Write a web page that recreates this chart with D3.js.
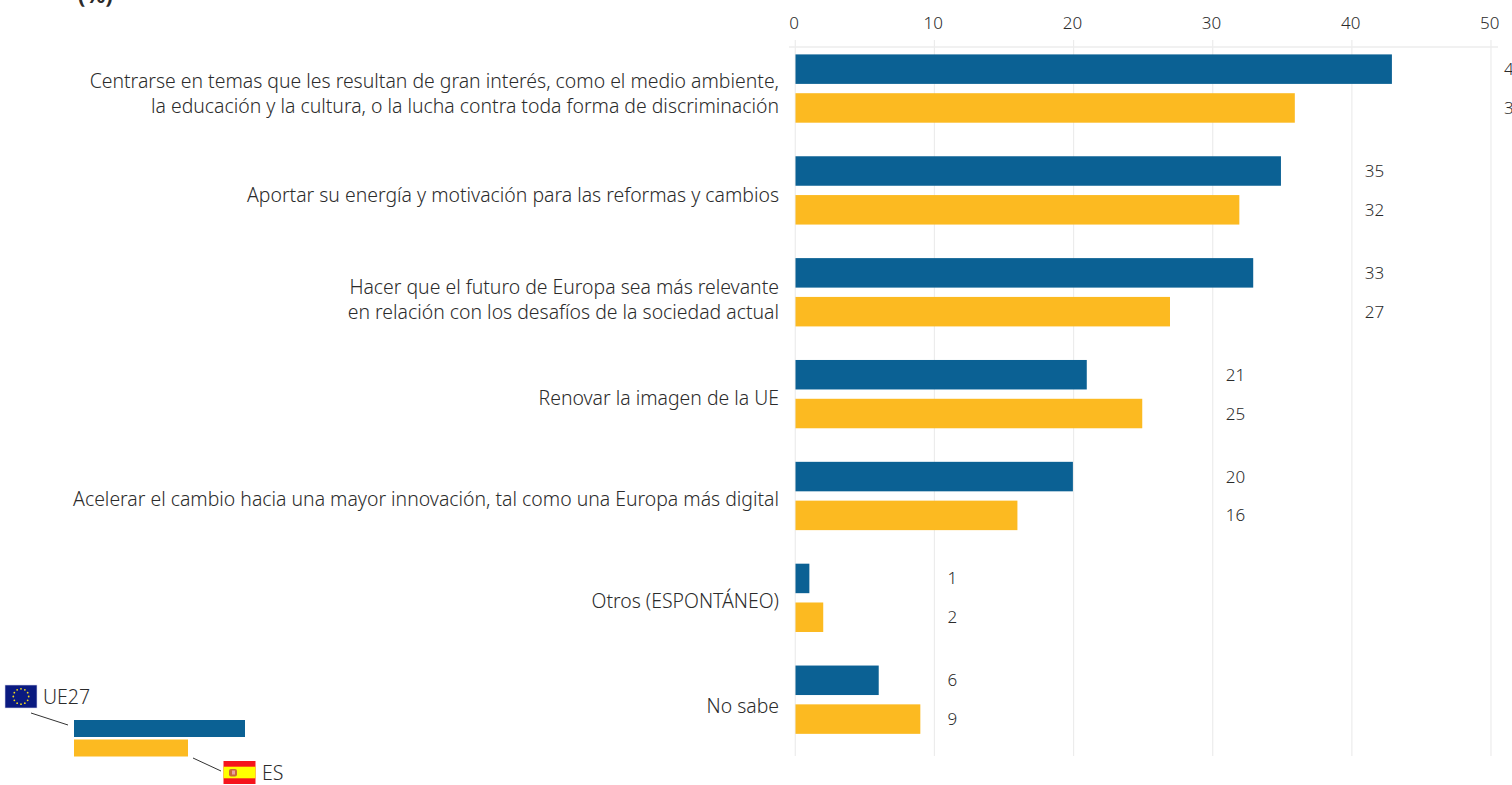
<!DOCTYPE html>
<html><head><meta charset="utf-8">
<script src="https://cdn.jsdelivr.net/npm/d3@7"></script>
<style>html,body{margin:0;padding:0;background:#fff;overflow:hidden}svg{display:block}
text{font-family:"Noto Sans",sans-serif;font-weight:300;fill:#2b2b2b}</style></head><body>
<svg id="c" width="1512" height="785"></svg>
<script>
const categories=[
 ["Centrarse en temas que les resultan de gran interés, como el medio ambiente,","la educación y la cultura, o la lucha contra toda forma de discriminación"],
 ["Aportar su energía y motivación para las reformas y cambios"],
 ["Hacer que el futuro de Europa sea más relevante","en relación con los desafíos de la sociedad actual"],
 ["Renovar la imagen de la UE"],
 ["Acelerar el cambio hacia una mayor innovación, tal como una Europa más digital"],
 ["Otros (ESPONTÁNEO)"],
 ["No sabe"]];
const ue27=[43,35,33,21,20,1,6];
const es=[36,32,27,25,16,2,9];
const ticks=[0,10,20,30,40,50];
const seriesNames=["UE27","ES"];
const colors=["#0b6194","#fcba21"];
const labelNudge=[1,0,3,0,-1,-1,2];
const svg=d3.select("#c");
const x=d3.scaleLinear().domain([0,50]).range([795.3,1491]);
const barX=d3.scaleLinear().domain([0,50]).range([795.5,1489]);
const y=d3.scaleBand().domain(d3.range(categories.length)).range([45.4,758.4]);
const sub=d3.scaleBand().domain([0,1]).range([9,77.3]).paddingInner(0.24).paddingOuter(0);
const axis=d3.axisTop(x).tickValues(ticks).tickSize(0).tickPadding(0);
svg.append("g").selectAll("line").data(ticks).join("line")
 .attr("x1",d=>x(d)).attr("x2",d=>x(d)).attr("y1",40).attr("y2",756).attr("stroke","#ececec").attr("stroke-width",1.2);
svg.append("line").attr("x1",789).attr("x2",1498).attr("y1",47).attr("y2",47).attr("stroke","#ececec").attr("stroke-width",1.5);
const ga=svg.append("g").attr("transform","translate(0,29)").call(axis);
ga.select(".domain").remove();
ga.selectAll("text").attr("font-size",17).style("font-family",'"Noto Sans",sans-serif').attr("fill","#2b2b2b");
ga.selectAll(".tick").attr("transform",d=>`translate(${x(d)-1.2},0)`);
const groups=svg.append("g").selectAll("g").data(categories).join("g").attr("transform",(d,i)=>`translate(0,${y(i)})`);
[ue27,es].forEach((vals,s)=>{
 groups.append("rect").attr("x",barX(0)).attr("y",sub(s)).attr("height",sub.bandwidth())
  .attr("width",(d,i)=>barX(vals[i])-barX(0)).attr("fill",colors[s]);
 groups.append("text").attr("x",(d,i)=>x((Math.floor(Math.max(ue27[i],es[i])/10)+1)*10)+13)
  .attr("y",sub(s)+sub.bandwidth()/2+6).attr("font-size",17).text((d,i)=>vals[i]);
});
groups.each(function(d,i){
 const g=d3.select(this);
 d.forEach((t,j)=>{
  g.append("text").attr("x",779).attr("y",48.5+6+labelNudge[i]+(j-(d.length-1)/2)*25).attr("text-anchor","end").attr("font-size",19.42).text(t);
 });
});
svg.append("text").attr("x",78).attr("y",3).attr("font-size",22).style("font-weight",700).text("(%)");
svg.append("rect").attr("x",74).attr("y",720).attr("width",171).attr("height",17).attr("fill",colors[0]);
svg.append("rect").attr("x",74).attr("y",739.5).attr("width",114).attr("height",17).attr("fill",colors[1]);
svg.append("line").attr("x1",31).attr("y1",713).attr("x2",68).attr("y2",725).attr("stroke","#333");
svg.append("line").attr("x1",193).attr("y1",758).attr("x2",221).attr("y2",771).attr("stroke","#333");
svg.append("text").attr("x",43).attr("y",704).attr("font-size",19.5).text(seriesNames[0]);
svg.append("text").attr("x",262).attr("y",780).attr("font-size",19.5).text(seriesNames[1]);
svg.append("rect").attr("x",5).attr("y",685).attr("width",32).attr("height",23).attr("fill","#0a1a80").attr("stroke","#d5d8ea").attr("stroke-width",.6);
svg.append("g").selectAll("circle").data(d3.range(12)).join("circle")
 .attr("cx",i=>21+7.7*Math.cos(i*Math.PI/6)).attr("cy",i=>696.5+7.7*Math.sin(i*Math.PI/6)).attr("r",.9).attr("fill","#f2d81c");
svg.append("rect").attr("x",223.5).attr("y",761).attr("width",32).attr("height",23).attr("fill","#f5141c");
svg.append("rect").attr("x",223.5).attr("y",766.7).attr("width",32).attr("height",11.6).attr("fill","#ffff00");
svg.append("rect").attr("x",229).attr("y",769).attr("width",8).attr("height",7.5).attr("rx",2).attr("fill","#c8683a");
svg.append("rect").attr("x",232).attr("y",770.5).attr("width",3).attr("height",4).attr("fill","#e8a0a0");
</script></body></html>
